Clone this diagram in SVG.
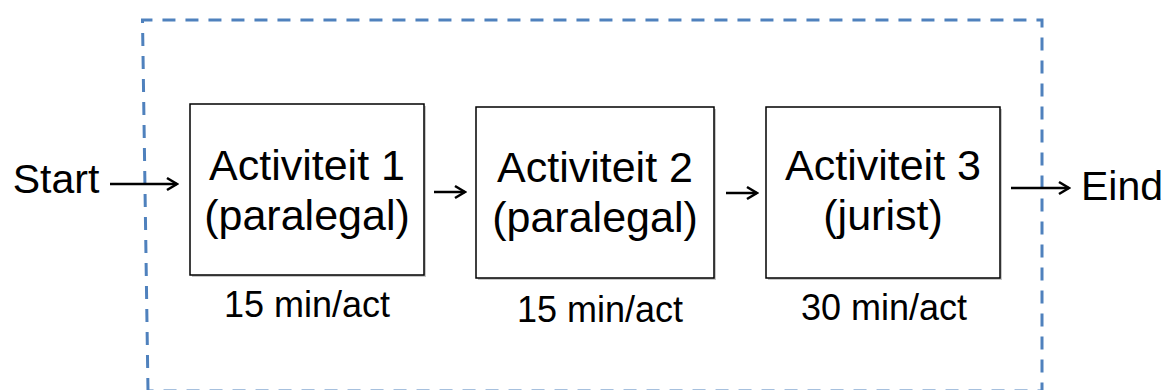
<svg xmlns="http://www.w3.org/2000/svg" width="1166" height="390" viewBox="0 0 1166 390">
<defs>
<style>
.box{fill:#fff;stroke:#000;stroke-width:1.5}
.shadow{fill:#c8c8c8}
.t{font-family:"Liberation Sans",Arial,sans-serif;fill:#000;text-anchor:middle}
.big{font-size:43px}
.small{font-size:36px}
.lab{font-size:41px}
.conn{stroke:#000;stroke-width:2.5;fill:none;marker-end:url(#ah)}
.frame{fill:none;stroke:#4f81bd;stroke-width:3;stroke-dasharray:13 10}
</style>
<marker id="ah" viewBox="0 0 16 16" refX="14" refY="8" markerWidth="16" markerHeight="16" markerUnits="userSpaceOnUse" orient="auto">
<path d="M4,2 L14,8 L4,14" fill="none" stroke="#000" stroke-width="2.6"/>
</marker>
</defs>
<rect width="1166" height="390" fill="#fff"/>
<path id="frame" class="frame" d="M148,391 L142.5,20 L1042,20 L1042,391 Z"/>
<g id="node1">
<rect class="shadow" x="192" y="106" width="234" height="171"/>
<rect class="box" x="190" y="104" width="234" height="171"/>
<text class="t big" x="307" y="180">Activiteit 1</text>
<text class="t big" x="307" y="230">(paralegal)</text>
<text class="t small" x="307" y="317">15 min/act</text>
</g>
<g id="node2">
<rect class="shadow" x="478" y="109" width="238" height="171"/>
<rect class="box" x="476" y="107" width="238" height="171"/>
<text class="t big" x="595" y="182">Activiteit 2</text>
<text class="t big" x="595" y="232">(paralegal)</text>
<text class="t small" x="600" y="322">15 min/act</text>
</g>
<g id="node3">
<rect class="shadow" x="768" y="109" width="234" height="171"/>
<rect class="box" x="766" y="107" width="234" height="171"/>
<text class="t big" x="883" y="180">Activiteit 3</text>
<text class="t big" x="883" y="230">(jurist)</text>
<text class="t small" x="884" y="320">30 min/act</text>
</g>
<g id="start">
<text class="t lab" x="56" y="193">Start</text>
</g>
<g id="end">
<text class="t lab" x="1122" y="200">Eind</text>
</g>
<g id="connectors">
<line class="conn" x1="110" y1="184" x2="177" y2="184"/>
<line class="conn" x1="434" y1="192" x2="465" y2="192"/>
<line class="conn" x1="726" y1="193" x2="757" y2="193"/>
<line class="conn" x1="1011" y1="188" x2="1069" y2="188"/>
</g>
</svg>
